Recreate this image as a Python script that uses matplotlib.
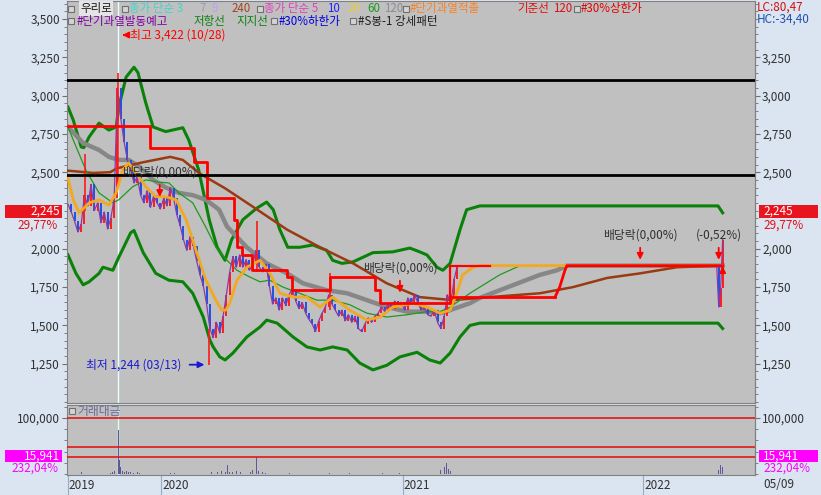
import numpy as np
import matplotlib
matplotlib.use("Agg")
import matplotlib.pyplot as plt
from matplotlib.patches import Rectangle

plt.rcParams['font.family'] = ['Noto Sans CJK KR', 'DejaVu Sans']

W, H = 821, 495

# x축 = 2019-08-13 부터의 경과일수
# 종가 (5일 간격)
close = [2290, 2240, 2180, 2110, 2160, 2350, 2280, 2420, 2250, 2300,
         2170, 2240, 2130, 2200, 2330, 3050, 2850, 2700, 2580, 2520,
         2430, 2470, 2350, 2300, 2380, 2270, 2350, 2300, 2260, 2330,
         2280, 2400, 2330, 2220, 2150, 2060, 1990, 2080, 2020, 1920,
         1830, 1760, 1640, 1480, 1420, 1520, 1450, 1560, 1700, 1850,
         1950, 1880, 1960, 1880, 1930, 1860, 1900, 1990, 1880, 1850,
         1900, 1760, 1640, 1680, 1600, 1680, 1630, 1700, 1740, 1660,
         1610, 1650, 1580, 1540, 1510, 1460, 1530, 1580, 1620, 1700,
         1640, 1600, 1560, 1600, 1530, 1570, 1520, 1560, 1480, 1460,
         1510, 1550, 1520, 1560, 1580, 1620, 1590, 1640, 1610, 1660,
         1620, 1650, 1600, 1680, 1640, 1700, 1650, 1600, 1620, 1570,
         1560, 1600, 1520, 1480, 1560, 1700, 1640, 1800, 1890, 1890]
CLOSE_STEP = 5
final_days = [983, 986, 989, 992]
final_close = [1890, 1620, 1745, 2060]

wick_days = [26, 76, 213, 286, 397]
wick_hi = [2620, 3150, 1480, 2180, 1840]
wick_lo = [2250, 2400, 1244, 1850, 1600]

# 저항선 / 지지선
upper_days = [0, 8, 20, 24, 32, 47, 55, 62, 73, 77, 88, 100, 106, 118, 129, 148, 174,
              183, 198, 214, 226, 238, 248, 265, 286, 301, 311, 321, 333, 351, 371,
              392, 401, 415, 432, 462, 492, 518, 533, 544, 559, 568, 579, 594, 604,
              624, 985, 992]
upper_vals = [2925, 2840, 2665, 2660, 2730, 2820, 2795, 2775, 2795, 2925, 3120, 3185,
              3150, 2950, 2795, 2765, 2790, 2710, 2515, 2190, 2010, 1925, 2060, 2190,
              2265, 2305, 2255, 2125, 2010, 2010, 2025, 1990, 1925, 1905, 1915, 1975,
              1980, 2005, 1980, 1960, 1880, 1860, 1905, 2125, 2255, 2280, 2280, 2235]
lower_days = [0, 12, 23, 32, 47, 53, 68, 77, 95, 100, 114, 133, 153, 174, 189, 205,
              215, 220, 230, 238, 250, 271, 291, 301, 317, 341, 362, 382, 401, 423,
              442, 462, 483, 503, 529, 548, 564, 579, 594, 609, 624, 985, 992]
lower_vals = [1960, 1840, 1765, 1785, 1840, 1880, 1860, 1945, 2105, 2120, 1975, 1840,
              1795, 1785, 1710, 1555, 1405, 1360, 1295, 1275, 1320, 1425, 1490, 1535,
              1515, 1425, 1360, 1340, 1360, 1340, 1255, 1210, 1240, 1295, 1325, 1275,
              1255, 1320, 1425, 1500, 1515, 1515, 1480]

# 기준선
red_step_days = [0, 124, 191, 211, 251, 256, 264, 279, 332, 339, 397, 465, 473, 579, 738]
red_step_vals = [2800, 2660, 2565, 2330, 2190, 2010, 1960, 1860, 1815, 1730, 1815,
                 1730, 1645, 1685, 1685]
red_tail_days = [738, 745, 753, 756, 992]
red_tail_vals = [1685, 1750, 1860, 1890, 1890]
limit_days = [579, 579, 640]
limit_vals = [1685, 1890, 1890]

# 이동평균
ma20_days = [0, 8, 17, 32, 47, 62, 73, 83, 92, 103, 118, 133, 148, 164, 179, 194, 209,
             224, 233, 239, 245, 256, 271, 291, 306, 321, 341, 362, 382, 401, 427, 453,
             473, 492, 523, 544, 564, 579, 589, 598, 614, 624, 992]
ma20_vals = [2460, 2320, 2235, 2300, 2320, 2285, 2365, 2515, 2560, 2495, 2405, 2340,
             2340, 2320, 2190, 1990, 1795, 1665, 1600, 1600, 1645, 1795, 1880, 1925,
             1840, 1710, 1685, 1685, 1620, 1685, 1600, 1535, 1555, 1620, 1645, 1620,
             1580, 1600, 1710, 1830, 1880, 1890, 1890]
ma60_days = [0, 8, 27, 47, 68, 77, 98, 118, 138, 153, 168, 189, 209, 224, 241, 256, 276,
             291, 306, 326, 351, 377, 401, 427, 453, 483, 514, 544, 564, 579, 609, 624,
             654, 685, 992]
ma60_vals = [2795, 2710, 2515, 2365, 2300, 2320, 2405, 2450, 2435, 2430, 2365, 2300,
             2140, 2010, 1925, 1860, 1815, 1785, 1795, 1750, 1710, 1665, 1665, 1635,
             1580, 1555, 1570, 1590, 1590, 1620, 1710, 1750, 1830, 1890, 1890]
ma120_days = [0, 23, 47, 62, 77, 92, 108, 129, 148, 168, 189, 209, 229, 241, 271, 301,
              332, 356, 392, 423, 453, 483, 514, 544, 564, 579, 609, 624, 715, 741, 756,
              992]
ma120_vals = [2795, 2690, 2645, 2600, 2580, 2580, 2535, 2450, 2400, 2365, 2350, 2320,
              2255, 2145, 2010, 1905, 1840, 1775, 1730, 1710, 1665, 1620, 1590, 1590,
              1580, 1600, 1645, 1680, 1830, 1860, 1890, 1890]
ma240_days = [0, 38, 64, 74, 114, 155, 174, 200, 238, 280, 332, 382, 432, 483, 533, 583,
              624, 715, 765, 817, 867, 923, 988]
ma240_vals = [2510, 2495, 2500, 2525, 2565, 2600, 2580, 2490, 2395, 2275, 2125, 2010,
              1905, 1775, 1685, 1665, 1680, 1710, 1750, 1810, 1840, 1880, 1890]

resist_levels = [3100, 2480]

HIGH_DAY, HIGH_VAL = 76, 3422
LOW_DAY, LOW_VAL = 213, 1244
event_days = [139, 503, 867, 986]
event_vals = [2500, 1875, 2090, 2090]
event_text = ['배당락(0,00%)', '배당락(0,00%)', '배당락(0,00%)', '(-0,52%)']

# 거래대금
vol_days = [21, 64, 68, 71, 76, 78, 80, 83, 86, 89, 92, 95, 100, 105, 109, 147, 155, 162,
            218, 227, 233, 238, 241, 245, 250, 255, 261, 276, 280, 285, 289, 294, 300,
            336, 397, 427, 477, 503, 565, 570, 574, 577, 580, 986, 989, 992]
vol_vals = [3000, 2500, 4000, 6000, 78000, 25000, 12000, 6000, 4000, 5000, 3000, 4000,
            2500, 3000, 2000, 1500, 1500, 1500, 3000, 4000, 5000, 3500, 16000, 4000,
            3000, 4500, 3000, 4000, 8000, 30000, 6000, 3000, 2000, 1500, 2000, 1500,
            1500, 1500, 8000, 12000, 19000, 9000, 6000, 8000, 16000, 12000]
vol_lines = [100000, 48000, 30000]

year_days = [0, 141, 507, 872]
year_labels = ['2019', '2020', '2021', '2022']

left_ticks = [1250, 1500, 1750, 2000, 2500, 2750, 3000, 3250, 3500]
right_ticks = [1250, 1500, 1750, 2000, 2500, 2750, 3000, 3250]

TXT = '#303030'
RED = '#ff0000'


def ftext(x, y, s, **kw):
    kw.setdefault('va', 'center')
    kw.setdefault('fontsize', 8.5)
    return fig.text(x / W, 1 - y / H, s, **kw)


def fbox(x0, x1, y0, y1, color):
    fig.add_artist(Rectangle((x0 / W, 1 - y1 / H), (x1 - x0) / W, (y1 - y0) / H,
                             transform=fig.transFigure, fc=color, ec='none'))


def fsquare(x, y):
    # 범례 앞의 작은 네모
    fig.add_artist(Rectangle(((x + 1) / W, 1 - (y + 3) / H), 6 / W, 6 / H,
                             transform=fig.transFigure, fc='#d4d4d4', ec='#707070',
                             lw=0.8))


fig = plt.figure(figsize=(W / 100, H / 100), dpi=100, facecolor='#dbe5f1')
ax = fig.add_axes([67 / W, 1 - 403 / H, 688 / W, 402 / H], facecolor='#c0c0c0')
axv = fig.add_axes([67 / W, 1 - 475 / H, 688 / W, 70 / H], facecolor='#c0c0c0', sharex=ax)

ax.set_xlim(-1.5, 1041)
ax.set_ylim(994, 3617)
axv.set_ylim(-1800, 123200)

# 가격 영역
ax.axvline(HIGH_DAY, color='#e8ffff', lw=1, zorder=1.5)
ax.plot(upper_days, upper_vals, color='#0a820a', lw=2.2, zorder=2)
ax.plot(lower_days, lower_vals, color='#0a820a', lw=2.2, zorder=2)
ax.plot(ma120_days, ma120_vals, color='#878787', lw=3.2, zorder=3)
ax.plot(ma240_days, ma240_vals, color='#9a3a12', lw=1.8, zorder=3)
ax.plot(ma60_days, ma60_vals, color='#1f9a1f', lw=0.9, zorder=3)

days_all = np.r_[np.arange(len(close)) * CLOSE_STEP, final_days]
close_all = np.r_[close, final_close]
prev = np.r_[close_all[0], close_all[:-1]]
up = close_all >= prev
ax.vlines(days_all[up], prev[up], close_all[up], color='#ff1a1a', lw=1.4, zorder=4)
ax.vlines(days_all[~up], prev[~up], close_all[~up], color='#2050e0', lw=1.4, zorder=4)
ax.plot(days_all, close_all, color='#8a3aa8', lw=0.9, zorder=4)
ax.vlines(wick_days, wick_lo, wick_hi, color='#ff1a1a', lw=1.2, zorder=4)

ax.plot(ma20_days, ma20_vals, color='#f2a91e', lw=2.0, zorder=5)
ax.step(red_step_days, red_step_vals, where='post', color=RED, lw=2.0, zorder=6)
ax.plot(red_tail_days, red_tail_vals, color=RED, lw=2.0, zorder=6)
ax.plot(limit_days, limit_vals, color=RED, lw=1.6, zorder=6)
for lv in resist_levels:
    ax.axhline(lv, color='black', lw=2, zorder=8)

arrow = dict(arrowstyle='-|>', color=RED, lw=1.3, mutation_scale=9)
ax.annotate('', xy=(HIGH_DAY + 2, 3395), xytext=(HIGH_DAY + 15, 3395),
            arrowprops=arrow, zorder=9)
ax.text(HIGH_DAY + 18, 3395, '최고 3,422 (10/28)', color=RED, fontsize=8.5,
        va='center', ha='left', zorder=9)
ax.text(LOW_DAY - 41, LOW_VAL, '최저 1,244 (03/13)', color='#1a1ad0', fontsize=8.5,
        va='center', ha='right', zorder=9)
ax.annotate('', xy=(LOW_DAY - 2, LOW_VAL), xytext=(LOW_DAY - 33, LOW_VAL),
            arrowprops=dict(arrowstyle='-|>', color='#1a1ad0', lw=1.3, mutation_scale=9),
            zorder=9)
for d, v, s in zip(event_days, event_vals, event_text):
    ax.text(d, v, s, ha='center', va='center', fontsize=8.5, color=TXT, zorder=9)
    ax.annotate('', xy=(d, v - 180), xytext=(d, v - 65), arrowprops=arrow, zorder=9)
ax.annotate('', xy=(final_days[-1], 1905), xytext=(final_days[-1], 1830),
            arrowprops=arrow, zorder=9)

# 축 눈금
minor = np.arange(1000, 3601, 50)
ax.set_yticks(left_ticks, labels=[f'{v:,}' for v in left_ticks])
ax.set_yticks(minor, minor=True)
ax.tick_params(axis='y', which='major', length=3.6, color='#707070', labelsize=8.5,
               labelcolor=TXT, pad=1.5)
ax.tick_params(axis='y', which='minor', length=2, color='#707070')
ax.tick_params(axis='x', which='both', bottom=False, labelbottom=False)
sec = ax.secondary_yaxis('right')
sec.set_yticks(right_ticks, labels=[f'{v:,}' for v in right_ticks])
sec.set_yticks(minor, minor=True)
sec.tick_params(axis='y', which='major', length=3.6, color='#707070', labelsize=8.5,
                labelcolor=TXT, pad=1.5)
sec.tick_params(axis='y', which='minor', length=2, color='#707070')
sec.spines['right'].set_color('#808080')

# 거래대금 영역
axv.axvline(HIGH_DAY, color='#d8fff0', lw=1, zorder=1)
axv.bar(vol_days, vol_vals, width=1.5, color='#5a5a9a', zorder=2)
for lv in vol_lines:
    axv.axhline(lv, color='#e01818', lw=1.2, zorder=3)
axv.set_yticks([100000], labels=['100,000'])
axv.set_yticks(np.arange(0, 120001, 20000), minor=True)
axv.tick_params(axis='y', which='major', length=3.6, color='#707070', labelsize=8.5,
                labelcolor=TXT, pad=1.5)
axv.tick_params(axis='y', which='minor', length=2, color='#707070')
axv.tick_params(axis='x', which='both', bottom=False, labelbottom=False)
secv = axv.secondary_yaxis('right')
secv.set_yticks([100000], labels=['100,000'])
secv.set_yticks(np.arange(0, 120001, 20000), minor=True)
secv.tick_params(axis='y', which='major', length=3.6, color='#707070', labelsize=8.5,
                 labelcolor=TXT, pad=1.5)
secv.tick_params(axis='y', which='minor', length=2, color='#707070')
secv.spines['right'].set_color('#808080')

for a in (ax, axv):
    for sp in a.spines.values():
        sp.set_color('#808080')
        sp.set_linewidth(0.8)

xt = axv.get_xaxis_transform()
for d, lab in zip(year_days, year_labels):
    axv.plot([d, d], [0, -0.29], transform=xt, clip_on=False, color='#9aabc0', lw=0.8)
    axv.text(d + 1.5, -0.145, lab, transform=xt, ha='left', va='center',
             fontsize=8.5, color=TXT)
ftext(763, 485, '05/09', color=TXT)

# 범례 글자 (None = 작은 네모)
GRAY = '#6a6a6a'
line1 = [(67, None, None), (80, '우리로', '#1a1a1a'), (121, None, None),
         (129, '종가 단순 3', '#3fd6c8'), (199, '7', '#9c9cb4'), (211, '9', '#c49cf0'),
         (232, '240', '#a0461e'), (256, None, None), (264, '종가 단순 5', '#e040c0'),
         (327, '10', '#2020ff'), (348, '20', '#e8cc40'), (367, '60', '#1f9a1f'),
         (384, '120', '#8c8c8c'), (402, None, None), (410, '#단기과열적출', '#ff8020'),
         (517, '기준선', '#e01010'), (553, '120', '#e01010'), (573, None, None),
         (581, '#30%상한가', '#e00000')]
line2 = [(67, None, None), (77, '#단기과열발동예고', '#8000a0'), (194, '저항선', '#108010'),
         (236, '지지선', '#108010'), (270, None, None), (279, '#30%하한가', '#0000e0'),
         (349, None, None), (358, '#S봉-1 강세패턴', '#202020')]
for y, row in ((8.5, line1), (21, line2)):
    for x, s, c in row:
        if s is None:
            fsquare(x, y)
            continue
        kw = {}
        if s == '우리로':
            kw['bbox'] = dict(boxstyle='square,pad=0.12', fc='#e4e4e4', ec='none')
        ftext(x, y, s, color=c, fontsize=8.3, **kw)
fsquare(68, 411)
ftext(77, 411, '거래대금', color='#6a6a9a')

ftext(757, 7, 'LC:80,47', color='#d01010')
ftext(757, 19, 'HC:-34,40', color='#2050b0')

# 현재가 표시
fbox(5, 62, 205, 218, '#e8141e')
fbox(759, 818, 205, 218, '#e8141e')
ftext(60, 211.5, '2,245', color='white', ha='right')
ftext(763, 211.5, '2,245', color='white', ha='left')
ftext(58, 225, '29,77%', color='#e0101a', ha='right')
ftext(763, 225, '29,77%', color='#e0101a', ha='left')

fbox(5, 62, 450, 462, '#ff00ff')
fbox(759, 818, 450, 462, '#ff00ff')
ftext(60, 456, '15,941', color='white', ha='right')
ftext(763, 456, '15,941', color='white', ha='left')
ftext(58, 468, '232,04%', color='#ff00ff', ha='right')
ftext(763, 468, '232,04%', color='#ff00ff', ha='left')

fig.savefig('out.png', dpi=100, facecolor=fig.get_facecolor())
